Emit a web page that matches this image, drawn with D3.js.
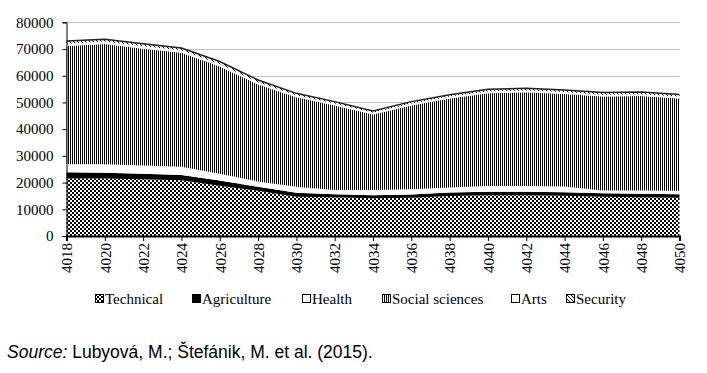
<!DOCTYPE html>
<html>
<head>
<meta charset="utf-8">
<script src="https://cdn.jsdelivr.net/npm/d3@7"></script>
<style>
  body { margin: 0; background: #fff; }
  svg { display: block; }
</style>
</head>
<body>
<div id="chart"></div>
<script>
// data
var years = [4018, 4020, 4022, 4024, 4026, 4028, 4030, 4032, 4034, 4036, 4038, 4040, 4042, 4044, 4046, 4048, 4050]

var technical   = [21500, 21500, 21200, 20900, 18800, 16900, 14700, 14500, 14100, 14300, 15000, 15300, 15300, 15100, 14700, 14500, 14300]
var agriculture = [2350, 2200, 2100, 1900, 2000, 1500, 1500, 1100, 1200, 1200, 1300, 1300, 1300, 1300, 1300, 1300, 1300]
var health      = [3050, 3200, 3100, 3150, 2500, 2000, 2200, 1600, 1900, 2000, 1900, 2100, 2100, 2100, 1000, 1200, 1300]
var social      = [44200, 45000, 43700, 42650, 40200, 36300, 33500, 31700, 28300, 31400, 33300, 34700, 35100, 34700, 35200, 35400, 34600]
var arts        = [900, 900, 900, 900, 900, 900, 800, 700, 700, 700, 700, 700, 700, 700, 700, 700, 700]
var security    = [1000, 850, 1000, 900, 900, 800, 700, 700, 600, 700, 700, 800, 800, 800, 800, 800, 800]

var series_names = ["Technical", "Agriculture", "Health", "Social sciences", "Arts", "Security"]
var y_ticks = [0, 10000, 20000, 30000, 40000, 50000, 60000, 70000, 80000]

var rows = years.map(function(yr, i){
  return {year: yr, "Technical": technical[i], "Agriculture": agriculture[i], "Health": health[i],
          "Social sciences": social[i], "Arts": arts[i], "Security": security[i]}
})

var width = 707, height = 373

var svg = d3.select("#chart")
  .append("svg")
  .attr("width", width)
  .attr("height", height)

// PATTERNS
var defs = svg.append("defs")

var checker = defs.append("pattern")
  .attr("id", "checker")
  .attr("patternUnits", "userSpaceOnUse")
  .attr("width", 4).attr("height", 4)
checker.append("rect").attr("width", 4).attr("height", 4).attr("fill", "#fff")
checker.append("rect").attr("width", 2).attr("height", 2).attr("fill", "#000")
checker.append("rect").attr("x", 2).attr("y", 2).attr("width", 2).attr("height", 2).attr("fill", "#000")

var stripes = defs.append("pattern")
  .attr("id", "stripes")
  .attr("patternUnits", "userSpaceOnUse")
  .attr("width", 2).attr("height", 2)
stripes.append("rect").attr("width", 2).attr("height", 2).attr("fill", "#fff")
stripes.append("rect").attr("width", 1).attr("height", 2).attr("fill", "#000")

var diag = defs.append("pattern")
  .attr("id", "diag")
  .attr("patternUnits", "userSpaceOnUse")
  .attr("width", 4).attr("height", 4)
diag.append("rect").attr("width", 4).attr("height", 4).attr("fill", "#fff")
diag.append("path").attr("d", "M0,0 L4,4 M-1,3 L1,5 M3,-1 L5,1").attr("stroke", "#000").attr("stroke-width", 1)

var fills = {
  "Technical": "url(#checker)",
  "Agriculture": "#000",
  "Health": "#fff",
  "Social sciences": "url(#stripes)",
  "Arts": "#fff",
  "Security": "url(#diag)"
}

// SCALES
var x = d3.scaleLinear()
  .domain([4018, 4050])
  .range([66.5, 679.5])

var y = d3.scaleLinear()
  .domain([0, 80000])
  .range([236, 22.3])

// gridlines
svg.append("g")
  .selectAll("line")
  .data(y_ticks.slice(1))
  .enter()
  .append("line")
  .attr("x1", x(4018)).attr("x2", x(4050))
  .attr("y1", function(d){return Math.round(y(d)) + 0.5})
  .attr("y2", function(d){return Math.round(y(d)) + 0.5})
  .attr("stroke", "#bfbfbf")
  .attr("stroke-width", 1)

// STACKED AREAS
var stack = d3.stack().keys(series_names)
var layers = stack(rows)

var area = d3.area()
  .x(function(d){return x(d.data.year)})
  .y0(function(d){return y(d[0])})
  .y1(function(d){return y(d[1])})

svg.append("g")
  .selectAll("path")
  .data(layers)
  .enter()
  .append("path")
  .attr("d", area)
  .attr("fill", function(d){return fills[d.key]})

// top outline
var top_line = d3.line()
  .x(function(d){return x(d.data.year)})
  .y(function(d){return y(d[1])})

svg.append("path")
  .attr("d", top_line(layers[layers.length - 1]))
  .attr("fill", "none")
  .attr("stroke", "#222")
  .attr("stroke-width", 1.5)

// AXES
var font = "'Liberation Serif', 'Times New Roman', serif"

var yAxis = d3.axisLeft(y)
  .tickValues(y_ticks)
  .tickSize(4)
  .tickPadding(9)
  .tickFormat(d3.format("d"))

var gy = svg.append("g")
  .attr("transform", "translate(" + x(4018) + ",0)")
  .call(yAxis)
gy.select(".domain").attr("stroke", "#000")
gy.selectAll("text").attr("font-family", font).attr("font-size", 15).attr("fill", "#000")

var xAxis = d3.axisBottom(x)
  .tickValues(years)
  .tickSize(5)
  .tickFormat(d3.format("d"))

var gx = svg.append("g")
  .attr("transform", "translate(0," + y(0) + ")")
  .call(xAxis)
gx.select(".domain").attr("stroke", "#000").attr("stroke-width", 2)
gx.selectAll("text")
  .attr("font-family", font)
  .attr("font-size", 15)
  .attr("fill", "#000")
  .attr("transform", "rotate(-90)")
  .attr("text-anchor", "end")
  .attr("x", -7)
  .attr("y", 0)
  .attr("dy", "0.35em")

// LEGEND
var legend_x = [95, 192, 302, 382, 511, 566]

var legend = svg.append("g")
  .selectAll("g")
  .data(series_names)
  .enter()
  .append("g")
  .attr("transform", function(d, i){return "translate(" + legend_x[i] + ",294)"})

legend.append("rect")
  .attr("x", 0.5).attr("y", 0.5)
  .attr("width", 8).attr("height", 8)
  .attr("fill", function(d){return fills[d]})
  .attr("stroke", "#000")
  .attr("stroke-width", 1)

legend.append("text")
  .attr("x", 10)
  .attr("y", 9.5)
  .attr("font-family", font)
  .attr("font-size", 15)
  .attr("fill", "#000")
  .text(function(d){return d})

// SOURCE NOTE
var src = svg.append("text")
  .attr("x", 7)
  .attr("y", 358)
  .attr("font-family", "'Liberation Sans', Arial, sans-serif")
  .attr("font-size", 17.5)
  .attr("fill", "#000")
src.append("tspan").attr("font-style", "italic").text("Source:")
src.append("tspan").text(" Lubyová, M.; Štefánik, M. et al. (2015).")
</script>
</body>
</html>
